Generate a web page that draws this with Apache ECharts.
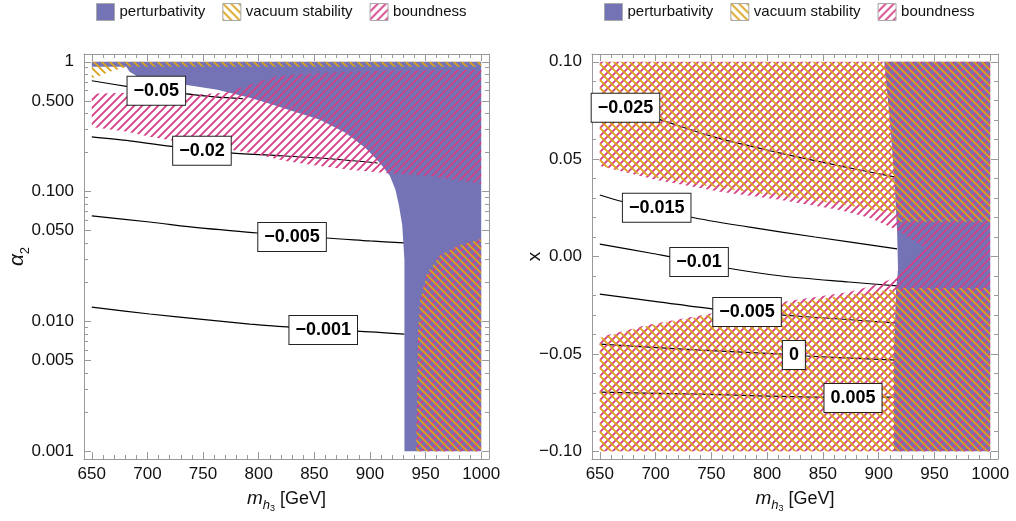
<!DOCTYPE html>
<html><head><meta charset="utf-8">
<script src="https://cdn.jsdelivr.net/npm/echarts@6/dist/echarts.min.js"></script>
<style>html,body{margin:0;padding:0;background:#fff}#c{width:1016px;height:521px}</style>
</head><body><div id="c"></div><script>
// ---------------- data ----------------
const massTicks = [650, 700, 750, 800, 850, 900, 950, 1000];
const alphaTicks = [1, 0.5, 0.1, 0.05, 0.01, 0.005, 0.001];
const alphaTickLabels = ['1', '0.500', '0.100', '0.050', '0.010', '0.005', '0.001'];
const xTicks = [0.1, 0.05, 0, -0.05, -0.1];
const xTickLabels = ['0.10', '0.05', '0.00', '\u22120.05', '\u22120.10'];
const legendNames = ['perturbativity', 'vacuum stability', 'boundness'];

// left panel: (m_h3 [GeV], alpha_2)
const leftPerturbativity = [[650,1],[1000,1],[1000,0.001],[931,0.001],[931,0.0297],[929,0.0553],[926,0.0789],[923,0.103],[918,0.132],[909,0.166],[896,0.217],[878,0.2835],[855,0.357],[833,0.411],[810,0.474],[792,0.528],[763,0.608],[734,0.665],[704,0.726],[693,0.753],[684,0.837],[681,0.915],[650,0.915]];
const leftVacuumTop = [[650,1],[1000,1],[1000,0.915],[682,0.915],[666,0.837],[655,0.766],[650,0.753]];
const leftBoundBand = [[650,0.566],[684,0.577],[735,0.556],[770,0.577],[792,0.665],[815,0.766],[837,0.808],[909,0.852],[1000,0.868],[1000,0.115],[954,0.132],[914,0.139],[884,0.147],[853,0.158],[824,0.172],[792,0.199],[747,0.229],[702,0.264],[682,0.289],[650,0.315]];
const leftExcludedCorner = [[941.5,0.001],[942.4,0.00247],[943.3,0.00858],[945.1,0.0146],[951.4,0.0236],[963.1,0.0325],[981.1,0.0388],[1000,0.0432],[1000,0.001]];
const leftContourNames = ['\u22120.05', '\u22120.02', '\u22120.005', '\u22120.001'];
const leftC1 = [[650,0.714],[684,0.641],[708,0.598],[735,0.566],[761,0.537],[786,0.519]];
const leftC2 = [[650,0.264],[684,0.246],[725,0.221],[749,0.2097],[774,0.1987],[824,0.188],[864,0.179],[907,0.166]];
const leftC3 = [[650,0.0649],[702,0.0583],[747,0.0525],[799,0.048],[830,0.0447],[860,0.0439],[900,0.0417],[931,0.0402]];
const leftC4 = [[650,0.0129],[702,0.0114],[747,0.0104],[792,0.00954],[828,0.00904],[858,0.00858],[888,0.00843],[931,0.00799]];
const leftLabelPos = [[708,0.598],[749,0.206],[830,0.0447],[858,0.00858]];

// right panel: (m_h3 [GeV], x)
const rightPerturbativity = [[905,0.1],[910,0.0702],[914,0.0404],[916.5,0.0136],[917.4,-0.0069],[915.6,-0.0172],[913.8,-0.0481],[913.8,-0.1],[1000,-0.1],[1000,0.1]];
const rightVacuumUpper = [[650,0.1],[1000,0.1],[1000,0.0178],[917,0.0178],[916.5,0.0219],[865,0.027],[811,0.0311],[758,0.0352],[701,0.0404],[650,0.0465]];
const rightVacuumLower = [[650,-0.1],[1000,-0.1],[1000,-0.0162],[916.5,-0.0162],[916.5,-0.0167],[873.5,-0.0198],[813.3,-0.0244],[752.3,-0.0295],[692.2,-0.0357],[650,-0.0419]];
const rightBoundUpper = [[650,0.1],[1000,0.1],[1000,0.0044],[941.7,0.0044],[916.5,0.0136],[892.3,0.0198],[865,0.0239],[811,0.0291],[758,0.0332],[701,0.0393],[650,0.0465]];
const rightBoundLower = [[650,-0.1],[1000,-0.1],[1000,0.0044],[941.7,0.0044],[916.5,-0.0079],[916.5,-0.0105],[896.8,-0.0146],[873.5,-0.0182],[813.3,-0.0234],[752.3,-0.029],[692.2,-0.0352],[650,-0.0414]];
const rightContourNames = ['\u22120.025', '\u22120.015', '\u22120.01', '\u22120.005', '0', '0.005'];
const rightC1 = [[650,0.0789],[673,0.0758],[702,0.0707],[752,0.0614],[811,0.0532],[865,0.0465],[914,0.0409]];
const rightC2 = [[650,0.0316],[672,0.028],[701,0.025],[731,0.0203],[783,0.0152],[843,0.01],[916.5,0.0039]];
const rightC3 = [[650,0.0064],[695,0.0018],[739,-0.0028],[764,-0.0059],[813,-0.01],[873.5,-0.0131],[916.5,-0.0151]];
const rightC4 = [[650,-0.0193],[704,-0.0234],[752,-0.027],[782,-0.0285],[811.5,-0.03],[865,-0.0321],[916.5,-0.0342]];
const rightC5 = [[650,-0.045],[740,-0.0481],[814,-0.0501],[834,-0.0511],[916.5,-0.0532]];
const rightC6 = [[650,-0.0697],[740,-0.0707],[852,-0.0722],[916.5,-0.0722]];
const rightLabelPos = [[673,0.0764],[701,0.025],[739,-0.0028],[782,-0.0285],[824,-0.0506],[877,-0.0727]];

// ---------------- styling ----------------
const FONT = '"Liberation Sans", Arial, Helvetica, sans-serif';
const FRAME = '#9a9a9a';
const TXT = '#111';
const BLUE = '#7373b5';
const PINK = '#d63f86';
const YELLOW = '#d9a21c';

function hatch(color, dir) {
  const s = 8;
  const c = document.createElement('canvas');
  c.width = s; c.height = s;
  const g = c.getContext('2d');
  g.strokeStyle = color; g.lineWidth = 1.9;
  g.beginPath();
  if (dir > 0) {
    g.moveTo(-1, s + 1); g.lineTo(s + 1, -1);
    g.moveTo(-1, 1); g.lineTo(1, -1);
    g.moveTo(s - 1, s + 1); g.lineTo(s + 1, s - 1);
  } else {
    g.moveTo(-1, -1); g.lineTo(s + 1, s + 1);
    g.moveTo(s - 1, -1); g.lineTo(s + 1, 1);
    g.moveTo(-1, s - 1); g.lineTo(1, s + 1);
  }
  g.stroke();
  return c;
}
const patPink = { image: hatch(PINK, 1), repeat: 'repeat' };
const patYellow = { image: hatch(YELLOW, -1), repeat: 'repeat' };

const tfLog = v => Math.log10(v);
const tfLin = v => v;

function majorMinor(list, all) { return all.filter(v => !list.some(t => Math.abs(t - v) < 1e-9)); }
const massMinor = []; for (let m = 650; m <= 1000; m += 10) massMinor.push(m);
const massMinorTicks = majorMinor(massTicks, massMinor);
const alphaMinor = [];
[-3, -2, -1].forEach(k => [2,3,4,6,7,8,9].forEach(d => alphaMinor.push(Math.log10(d * Math.pow(10, k)))));
const xMinorAll = []; for (let i = -10; i <= 10; i++) xMinorAll.push(i / 100);
const xMinorTicks = majorMinor(xTicks, xMinorAll);

function xAxesFor(gi) {
  const base = { type: 'value', gridIndex: gi, min: 643, max: 1007, splitLine: { show: false } };
  const major = { show: true, inside: true, length: 7, customValues: massTicks, lineStyle: { color: FRAME } };
  const minor = { show: true, inside: true, length: 4, customValues: massMinorTicks, lineStyle: { color: FRAME } };
  return [
    Object.assign({}, base, {
      position: 'bottom', axisLine: { show: true, onZero: false, lineStyle: { color: FRAME } }, axisTick: major,
      axisLabel: { show: true, customValues: massTicks, color: TXT, fontSize: 17, fontFamily: FONT, margin: 7, formatter: v => String(Math.round(v)) },
      name: '{m|m}{h|h}{t|3}{n| [GeV]}', nameLocation: 'middle', nameGap: 30,
      nameTextStyle: { color: TXT, fontFamily: FONT, fontSize: 18, rich: {
        m: { fontSize: 19, fontStyle: 'italic', fontFamily: FONT, color: TXT, verticalAlign: 'bottom', padding: [0,0,5,0] },
        h: { fontSize: 13, fontStyle: 'italic', fontFamily: FONT, color: TXT, verticalAlign: 'bottom', padding: [0,0,1,0] },
        t: { fontSize: 9, fontFamily: FONT, color: TXT, verticalAlign: 'bottom' },
        n: { fontSize: 18, fontFamily: FONT, color: TXT, verticalAlign: 'bottom', padding: [0,0,5,0] } } }
    }),
    Object.assign({}, base, { position: 'top', axisLine: { show: true, onZero: false, lineStyle: { color: FRAME } }, axisTick: major, axisLabel: { show: false } }),
    Object.assign({}, base, { position: 'bottom', axisLine: { show: false, onZero: false }, axisTick: minor, axisLabel: { show: false } }),
    Object.assign({}, base, { position: 'top', axisLine: { show: false, onZero: false }, axisTick: minor, axisLabel: { show: false } })
  ];
}

function yAxesFor(gi) {
  const isLog = gi === 0;
  const ticks = isLog ? alphaTicks.map(tfLog) : xTicks;
  const labels = isLog ? alphaTickLabels : xTickLabels;
  const minors = isLog ? alphaMinor : xMinorTicks;
  const base = { type: 'value', gridIndex: gi, min: isLog ? -3.06 : -0.104, max: isLog ? 0.06 : 0.104, splitLine: { show: false } };
  const major = { show: true, inside: true, length: 7, customValues: ticks, lineStyle: { color: FRAME } };
  const minor = { show: true, inside: true, length: 4, customValues: minors, lineStyle: { color: FRAME } };
  const fmt = v => { const i = ticks.findIndex(t => Math.abs(t - v) < 1e-6); return i >= 0 ? labels[i] : ''; };
  const name = isLog ? '{a|\u03b1}{s|2}' : '{x|x}';
  return [
    Object.assign({}, base, {
      position: 'left', axisLine: { show: true, onZero: false, lineStyle: { color: FRAME } }, axisTick: major,
      axisLabel: { show: true, customValues: ticks, color: TXT, fontSize: 17, fontFamily: FONT, margin: 10, formatter: fmt },
      name: name, nameLocation: 'middle', nameGap: isLog ? 52 : 48, nameMoveOverlap: false,
      nameTextStyle: { color: TXT, fontFamily: FONT, fontSize: 19, rich: {
        a: { fontSize: 21, fontStyle: 'italic', fontFamily: FONT, color: TXT, verticalAlign: 'bottom', padding: [0,0,4,0] },
        s: { fontSize: 13, fontFamily: FONT, color: TXT, verticalAlign: 'bottom' },
        x: { fontSize: 19, fontFamily: FONT, color: TXT } } }
    }),
    Object.assign({}, base, { position: 'right', axisLine: { show: true, onZero: false, lineStyle: { color: FRAME } }, axisTick: major, axisLabel: { show: false } }),
    Object.assign({}, base, { position: 'left', axisLine: { show: false, onZero: false }, axisTick: minor, axisLabel: { show: false } }),
    Object.assign({}, base, { position: 'right', axisLine: { show: false, onZero: false }, axisTick: minor, axisLabel: { show: false } })
  ];
}

function polySeries(name, pts, fill, gi, tf, z) {
  const data = pts.map(p => [p[0], tf(p[1])]);
  return {
    type: 'custom', name: name, xAxisIndex: gi * 4, yAxisIndex: gi * 4, z: z, silent: true,
    itemStyle: { color: fill }, data: data,
    renderItem: (params, api) => {
      if (params.dataIndex !== 0) return null;
      const points = data.map(d => api.coord(d));
      return { type: 'polygon', shape: { points: points }, style: { fill: fill, stroke: null } };
    }
  };
}
function lineSeries(pts, gi, tf) {
  return {
    type: 'line', xAxisIndex: gi * 4, yAxisIndex: gi * 4, z: 2, silent: true, symbol: 'none', smooth: 0.3,
    lineStyle: { color: '#000', width: 1.2 }, data: pts.map(p => [p[0], tf(p[1])])
  };
}
function labelSeries(pos, names, gi, tf) {
  return {
    type: 'scatter', xAxisIndex: gi * 4, yAxisIndex: gi * 4, z: 10, silent: true, symbolSize: 0,
    itemStyle: { color: '#000', opacity: 1 },
    data: pos.map((p, i) => ({ value: [p[0], tf(p[1])], name: names[i] })),
    label: { show: true, position: 'inside', formatter: '{b}', fontSize: 18, fontWeight: 'bold', fontFamily: FONT,
      color: '#000', opacity: 1, backgroundColor: '#fff', borderColor: '#222', borderWidth: 1, padding: [5, 6, 5, 6] }
  };
}

const series = [
  lineSeries(leftC1, 0, tfLog), lineSeries(leftC2, 0, tfLog), lineSeries(leftC3, 0, tfLog), lineSeries(leftC4, 0, tfLog),
  polySeries('perturbativity', leftPerturbativity, BLUE, 0, tfLog, 3),
  polySeries('boundness', leftBoundBand, patPink, 0, tfLog, 4),
  polySeries('boundness', leftExcludedCorner, patPink, 0, tfLog, 4),
  polySeries('vacuum stability', leftVacuumTop, patYellow, 0, tfLog, 5),
  polySeries('vacuum stability', leftExcludedCorner, patYellow, 0, tfLog, 5),
  labelSeries(leftLabelPos, leftContourNames, 0, tfLog),

  lineSeries(rightC1, 1, tfLin), lineSeries(rightC2, 1, tfLin), lineSeries(rightC3, 1, tfLin),
  lineSeries(rightC4, 1, tfLin), lineSeries(rightC5, 1, tfLin), lineSeries(rightC6, 1, tfLin),
  polySeries('perturbativity', rightPerturbativity, BLUE, 1, tfLin, 3),
  polySeries('boundness', rightBoundUpper, patPink, 1, tfLin, 4),
  polySeries('boundness', rightBoundLower, patPink, 1, tfLin, 4),
  polySeries('vacuum stability', rightVacuumUpper, patYellow, 1, tfLin, 5),
  polySeries('vacuum stability', rightVacuumLower, patYellow, 1, tfLin, 5),
  labelSeries(rightLabelPos, rightContourNames, 1, tfLin)
];

const legendItems = [
  { name: legendNames[0], itemStyle: { color: BLUE, borderColor: '#aaa', borderWidth: 1 } },
  { name: legendNames[1], itemStyle: { color: patYellow, borderColor: '#aaa', borderWidth: 1 } },
  { name: legendNames[2], itemStyle: { color: patPink, borderColor: '#aaa', borderWidth: 1 } }
];

const option = {
  animation: false,
  backgroundColor: '#fff',
  grid: [
    { left: 84, top: 54, width: 405, height: 405, containLabel: false, outerBoundsMode: 'none' },
    { left: 592, top: 54, width: 406, height: 405, containLabel: false, outerBoundsMode: 'none' }
  ],
  legend: [96, 604].map(l => ({
    left: l, top: 3, padding: 0, itemWidth: 18, itemHeight: 17, itemGap: 17, icon: 'rect', selectedMode: false,
    textStyle: { fontSize: 15, color: TXT, fontFamily: FONT }, data: legendItems
  })),
  xAxis: xAxesFor(0).concat(xAxesFor(1)),
  yAxis: yAxesFor(0).concat(yAxesFor(1)),
  series: series
};

const chart = echarts.init(document.getElementById('c'), null, { renderer: 'canvas', width: 1016, height: 521 });
chart.setOption(option);
</script></body></html>
